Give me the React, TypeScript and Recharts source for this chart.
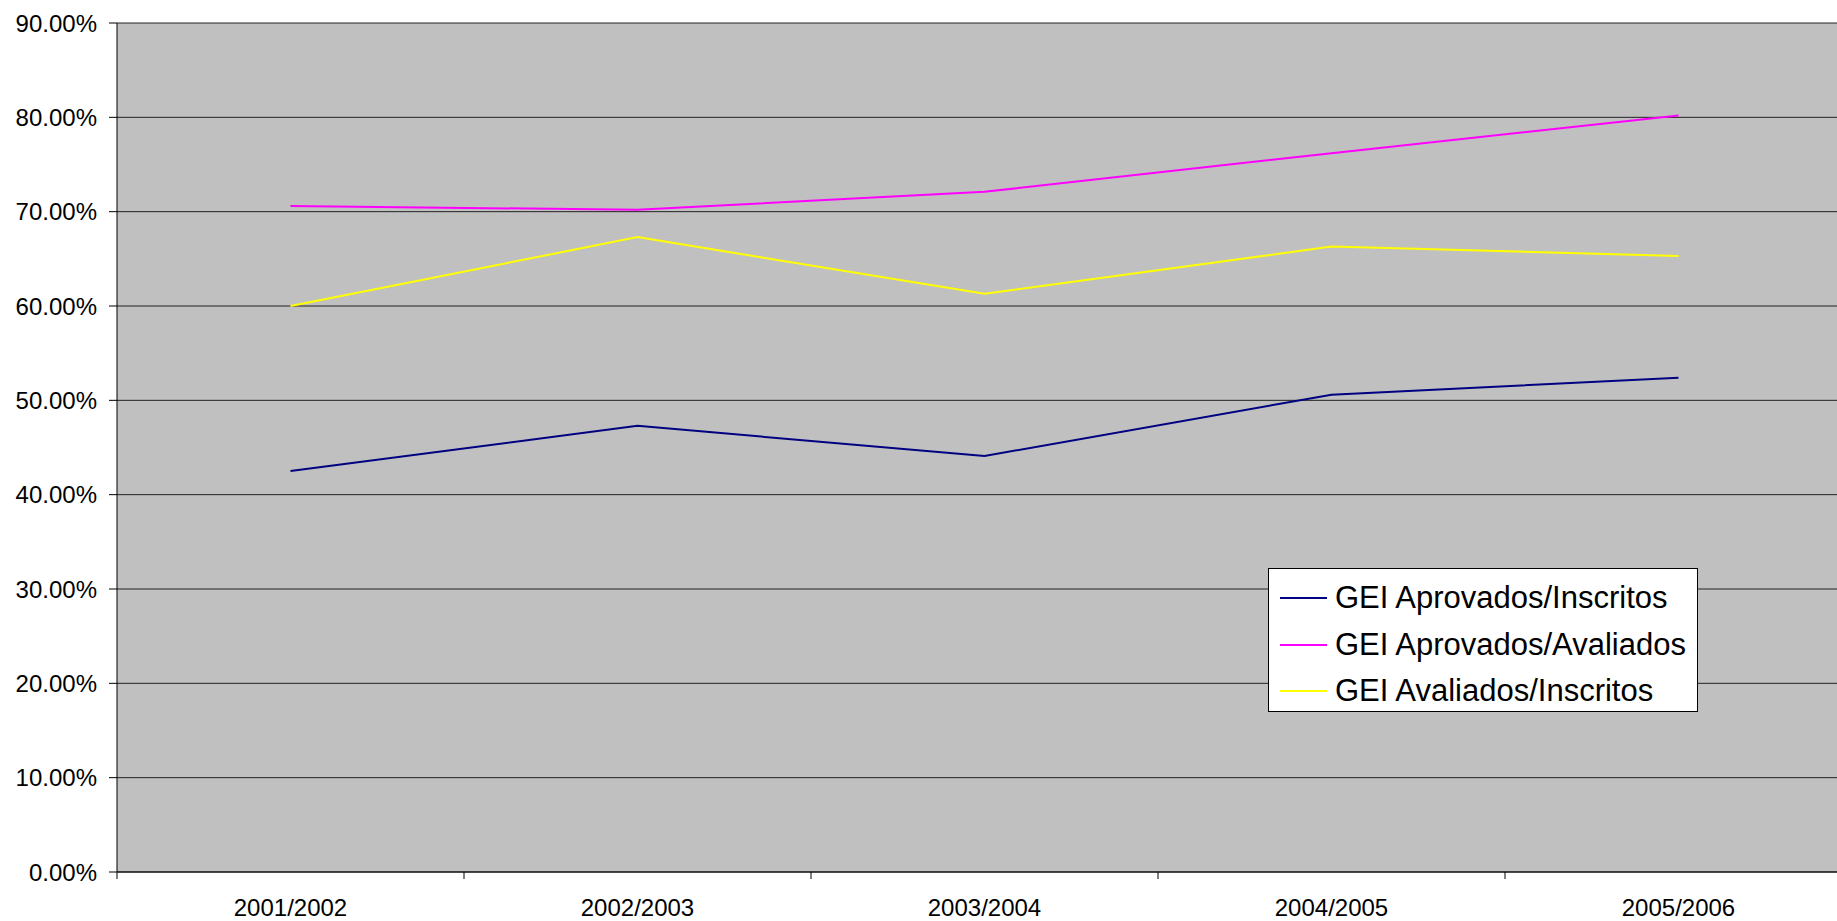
import React from 'react';
import { LineChart, Line, XAxis, YAxis, CartesianGrid, Legend } from 'recharts';

const categories = ['2001/2002', '2002/2003', '2003/2004', '2004/2005', '2005/2006'];
const aprovadosInscritos = [42.5, 47.3, 44.1, 50.6, 52.4];
const aprovadosAvaliados = [70.6, 70.2, 72.1, 76.2, 80.2];
const avaliadosInscritos = [60.0, 67.3, 61.3, 66.3, 65.3];
const yTicks = [0, 10, 20, 30, 40, 50, 60, 70, 80, 90];

const SERIES = [
  { key: 'aprovadosInscritos', name: 'GEI Aprovados/Inscritos', color: '#000080' },
  { key: 'aprovadosAvaliados', name: 'GEI Aprovados/Avaliados', color: '#ff00ff' },
  { key: 'avaliadosInscritos', name: 'GEI Avaliados/Inscritos', color: '#ffff00' },
];

const data = categories.map((cat, i) => ({
  cat,
  aprovadosInscritos: aprovadosInscritos[i],
  aprovadosAvaliados: aprovadosAvaliados[i],
  avaliadosInscritos: avaliadosInscritos[i],
}));

// chart geometry (plot runs past the right edge of the page, as in the original)
const CHART_W = 1870;
const CHART_H = 921;
const Y_AXIS_W = 117;
const MARGIN_RIGHT = 18;
const BAND = (CHART_W - Y_AXIS_W - MARGIN_RIGHT) / categories.length;
const FONT = '"Liberation Sans", Arial, sans-serif';

const XTick = (props: any) => {
  const { x, y, payload } = props;
  const left = x - BAND / 2;
  return (
    <g>
      <line x1={left} y1={y} x2={left} y2={y + 7} stroke="#000" strokeWidth={1} />
      <text x={x} y={y + 44} textAnchor="middle" fill="#000" fontSize={24} fontFamily={FONT}>
        {payload.value}
      </text>
    </g>
  );
};

const order = (name: string) => SERIES.findIndex((s) => s.name === name);

const LegendBox = (props: any) => {
  const items = [...(props.payload || [])].sort((a: any, b: any) => order(a.value) - order(b.value));
  return (
    <div
      style={{
        boxSizing: 'border-box',
        width: 430,
        height: 144,
        background: '#fff',
        border: '1px solid #000',
        paddingTop: 6,
        fontFamily: FONT,
      }}
    >
      {items.map((item: any) => (
        <div key={item.value} style={{ display: 'flex', alignItems: 'center', height: 46.5 }}>
          <div style={{ width: 47, height: 2, marginLeft: 11, background: item.color }} />
          <span style={{ marginLeft: 8, fontSize: 31, color: '#000', whiteSpace: 'nowrap' }}>
            {item.value}
          </span>
        </div>
      ))}
    </div>
  );
};

export default function App() {
  return (
    <div
      style={{
        position: 'absolute',
        left: 0,
        top: 0,
        width: 1837,
        height: 921,
        overflow: 'hidden',
        background: '#fff',
      }}
    >
      <LineChart
        width={CHART_W}
        height={CHART_H}
        data={data}
        margin={{ top: 23, right: MARGIN_RIGHT, bottom: 0, left: 0 }}
        style={{ fontFamily: FONT }}
      >
        <CartesianGrid vertical={false} stroke="#222" fill="#c0c0c0" strokeOpacity={1} />
        <XAxis
          dataKey="cat"
          scale="band"
          height={49}
          axisLine={{ stroke: '#000', strokeWidth: 1 }}
          tickLine={false}
          tickSize={0}
          tickMargin={0}
          interval={0}
          tick={<XTick />}
        />
        <YAxis
          width={Y_AXIS_W}
          domain={[0, 90]}
          ticks={yTicks}
          interval={0}
          axisLine={{ stroke: '#000', strokeWidth: 1 }}
          tickLine={{ stroke: '#000', strokeWidth: 1 }}
          tickSize={8}
          tickMargin={12}
          tick={{ fill: '#000', fontSize: 24, fontFamily: FONT }}
          tickFormatter={(v: number) => `${v.toFixed(2)}%`}
        />
        <Legend
          layout="horizontal"
          align="center"
          verticalAlign="middle"
          wrapperStyle={{ left: 1268, top: 568, width: 430, height: 144 }}
          content={<LegendBox />}
        />
        {SERIES.map((s) => (
          <Line
            key={s.key}
            type="linear"
            dataKey={s.key}
            name={s.name}
            stroke={s.color}
            strokeWidth={2}
            dot={false}
            activeDot={false}
            isAnimationActive={false}
          />
        ))}
      </LineChart>
    </div>
  );
}
